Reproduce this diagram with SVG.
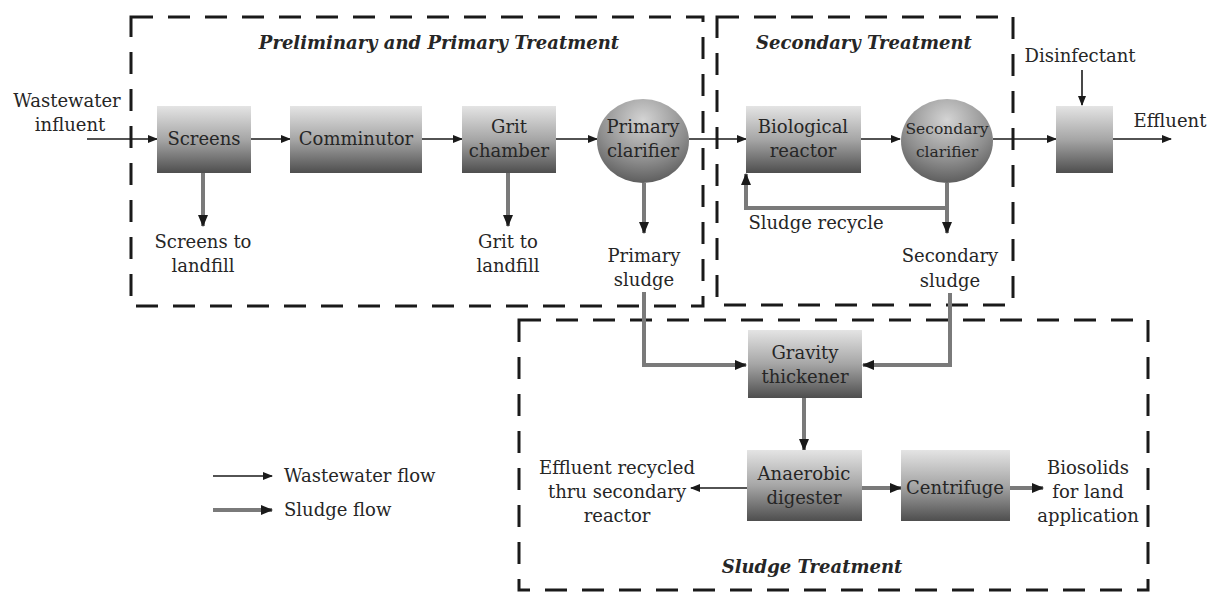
<svg xmlns="http://www.w3.org/2000/svg" width="1213" height="594" viewBox="0 0 1213 594">
<style>
text{font-family:"DejaVu Serif","Liberation Serif",serif;fill:#262626;font-size:18px;text-anchor:middle}
.node{font-size:18px}
.hdr{font-weight:bold;font-style:italic;font-size:18px}
.zone{fill:none;stroke:#1a1a1a;stroke-width:3;stroke-dasharray:22 15}
.box{fill:url(#g);stroke:none}
.w{stroke:#1a1a1a;stroke-width:1.6;fill:none;marker-end:url(#ah)}
.s{stroke:#7a7a7a;stroke-width:4;fill:none;marker-end:url(#ah2)}
</style>
<defs>
<linearGradient id="g" x1="0" y1="0" x2="0" y2="1">
<stop offset="0" stop-color="#e4e4e4"/><stop offset="0.5" stop-color="#a6a6a6"/><stop offset="1" stop-color="#4e4e4e"/>
</linearGradient>
<radialGradient id="rg" cx="0.5" cy="0.25" r="0.8">
<stop offset="0" stop-color="#d4d4d4"/><stop offset="0.6" stop-color="#8e8e8e"/><stop offset="1" stop-color="#555"/>
</radialGradient>
<marker id="ah" markerWidth="10" markerHeight="8" refX="9" refY="4" orient="auto" markerUnits="userSpaceOnUse">
<path d="M0,0 L10,4 L0,8 Z" fill="#1a1a1a"/>
</marker>
<marker id="ah2" markerWidth="12" markerHeight="10" refX="11" refY="5" orient="auto" markerUnits="userSpaceOnUse">
<path d="M0,0 L12,5 L0,10 Z" fill="#1a1a1a"/>
</marker>
</defs>

<g id="zones">
<rect class="zone" x="131" y="17" width="572" height="289"/>
<rect class="zone" x="717" y="17" width="296" height="288"/>
<rect class="zone" x="519" y="320" width="629" height="270"/>
<text class="hdr" x="439" y="49">Preliminary and Primary Treatment</text>
<text class="hdr" x="864" y="49">Secondary Treatment</text>
<text class="hdr" x="812" y="573">Sludge Treatment</text>
</g>

<g id="connectors">
<line class="w" x1="87" y1="139" x2="157" y2="139"/>
<line class="w" x1="251" y1="139" x2="290" y2="139"/>
<line class="w" x1="422" y1="139" x2="462" y2="139"/>
<line class="w" x1="556" y1="139" x2="597" y2="139"/>
<line class="w" x1="689" y1="139" x2="746" y2="139"/>
<line class="w" x1="861" y1="139" x2="900" y2="139"/>
<line class="w" x1="993" y1="139" x2="1056" y2="139"/>
<line class="w" x1="1113" y1="139" x2="1171" y2="139"/>
<line class="w" x1="1082" y1="70" x2="1082" y2="105"/>
<line class="s" x1="203" y1="173" x2="203" y2="226"/>
<line class="s" x1="508" y1="173" x2="508" y2="226"/>
<line class="s" x1="644" y1="183" x2="644" y2="233"/>
<line class="s" x1="947" y1="183" x2="947" y2="233"/>
<polyline class="s" points="947,208 746,208 746,174"/>
<polyline class="s" points="644,292 644,365 746,365"/>
<polyline class="s" points="950,293 950,365 863,365"/>
<line class="s" x1="804" y1="398" x2="804" y2="450"/>
<line class="s" x1="862" y1="488" x2="901" y2="488"/>
<line class="s" x1="1010" y1="488" x2="1043" y2="488"/>
<line class="w" x1="747" y1="488" x2="691" y2="488"/>
</g>

<g id="influent"><text x="67" y="107">Wastewater</text><text x="70" y="131">influent</text></g>
<g id="screens"><rect class="box" x="157" y="106" width="94" height="67"/><text class="node" x="204" y="145">Screens</text></g>
<g id="comminutor"><rect class="box" x="290" y="106" width="132" height="67"/><text class="node" x="356" y="145">Comminutor</text></g>
<g id="grit"><rect class="box" x="462" y="106" width="94" height="67"/><text class="node" x="509" y="133">Grit</text><text class="node" x="509" y="157">chamber</text></g>
<g id="primary"><ellipse cx="643" cy="141" rx="46" ry="42" fill="url(#rg)"/><text class="node" x="643" y="133">Primary</text><text class="node" x="643" y="157">clarifier</text></g>
<g id="bio"><rect class="box" x="746" y="106" width="115" height="67"/><text class="node" x="803" y="133">Biological</text><text class="node" x="803" y="157">reactor</text></g>
<g id="secondary"><ellipse cx="947" cy="141" rx="46" ry="42" fill="url(#rg)"/><text x="947" y="134" style="font-size:15.5px">Secondary</text><text x="947" y="157" style="font-size:15.5px">clarifier</text></g>
<g id="disinfection"><rect class="box" x="1056" y="106" width="57" height="67"/></g>
<g id="disinfectant"><text x="1080" y="62">Disinfectant</text></g>
<g id="effluent"><text x="1170" y="127">Effluent</text></g>
<g id="screens-out"><text x="203" y="248">Screens to</text><text x="203" y="272">landfill</text></g>
<g id="grit-out"><text x="508" y="248">Grit to</text><text x="508" y="272">landfill</text></g>
<g id="primary-sludge"><text x="644" y="262">Primary</text><text x="644" y="286">sludge</text></g>
<g id="sludge-recycle"><text x="816" y="229">Sludge recycle</text></g>
<g id="secondary-sludge"><text x="950" y="262">Secondary</text><text x="950" y="287">sludge</text></g>
<g id="gravity"><rect class="box" x="748" y="330" width="114" height="68"/><text class="node" x="805" y="359">Gravity</text><text class="node" x="805" y="383">thickener</text></g>
<g id="anaerobic"><rect class="box" x="747" y="450" width="115" height="71"/><text class="node" x="804" y="480">Anaerobic</text><text class="node" x="804" y="504">digester</text></g>
<g id="centrifuge"><rect class="box" x="901" y="450" width="109" height="71"/><text class="node" x="955" y="494">Centrifuge</text></g>
<g id="recycled"><text x="617" y="474">Effluent recycled</text><text x="617" y="498">thru secondary</text><text x="617" y="522">reactor</text></g>
<g id="biosolids"><text x="1088" y="474">Biosolids</text><text x="1088" y="498">for land</text><text x="1088" y="522">application</text></g>
<g id="legend">
<line class="w" x1="213" y1="476" x2="272" y2="476"/>
<line class="s" x1="213" y1="510" x2="272" y2="510"/>
<text x="284" y="482" style="text-anchor:start">Wastewater flow</text>
<text x="284" y="516" style="text-anchor:start">Sludge flow</text>
</g>
</svg>
